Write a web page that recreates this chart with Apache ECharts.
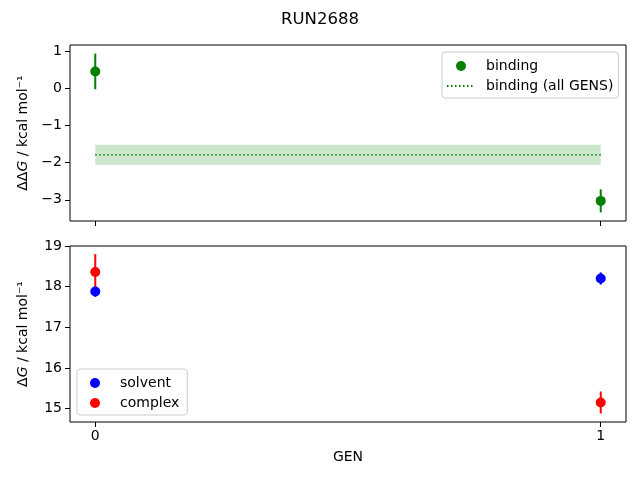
<!DOCTYPE html>
<html>
<head>
<meta charset="utf-8">
<script src="https://cdn.jsdelivr.net/npm/echarts@6/dist/echarts.min.js"></script>
<style>
  html, body { margin: 0; padding: 0; background: #fff; }
  #main { width: 640px; height: 480px; }
</style>
</head>
<body>
<div id="main"></div>
<script>
// data
var gens = [0, 1];
var bindingVals = [0.45, -3.03];
var bindingErrs = [0.48, 0.31];
var bindingAll = -1.79;
var bindingAllErr = 0.27;
var solventVals = [17.88, 18.20];
var solventErrs = [0.13, 0.15];
var complexVals = [18.36, 15.15];
var complexErrs = [0.44, 0.27];
var topTicks = [-3, -2, -1, 0, 1];
var bottomTicks = [15, 16, 17, 18, 19];

var FONT = 'DejaVu Sans';

function points(vals) {
    return gens.map(function (g, i) { return [g, vals[i]]; });
}
function bars(vals, errs) {
    return gens.map(function (g, i) { return [g, vals[i] - errs[i], vals[i] + errs[i]]; });
}
// error bar drawn via the axes scales
function errRender(color) {
    return function (params, api) {
        var p1 = api.coord([api.value(0), api.value(1)]);
        var p2 = api.coord([api.value(0), api.value(2)]);
        return {
            type: 'line',
            shape: { x1: p1[0], y1: p1[1], x2: p2[0], y2: p2[1] },
            style: { stroke: color, lineWidth: 2 }
        };
    };
}

var myChart = echarts.init(document.getElementById('main'), null, { renderer: 'canvas' });

var xCommon = {
    type: 'value', min: -0.05, max: 1.05,
    splitLine: { show: false },
    axisLine: { show: false, onZero: false },
    axisTick: { show: true, inside: false, length: 5, lineStyle: { color: '#000' }, customValues: gens },
    axisLabel: { color: '#000', fontSize: 14, fontFamily: FONT, margin: 7, customValues: gens }
};

var richName = { n: { fontSize: 14, fontFamily: FONT, color: '#000' }, i: { fontSize: 14, fontFamily: FONT, fontStyle: 'italic', color: '#000' } };

var legendCommon = {
    orient: 'vertical', align: 'left', padding: [7, 5, 5, 4], itemWidth: 28, itemHeight: 10, itemGap: 6,
    borderColor: '#cccccc', borderWidth: 1, borderRadius: 3, backgroundColor: 'rgba(255,255,255,0.8)',
    textStyle: { fontSize: 14, color: '#000', fontFamily: FONT, padding: [0, 0, 0, 6] }
};

var option = {
    animation: false,
    textStyle: { fontFamily: FONT },
    title: {
        text: 'RUN2688', left: 'center', top: 6,
        textStyle: { fontSize: 16.5, fontWeight: 'normal', color: '#000', fontFamily: FONT }
    },
    grid: [
        { left: 70, top: 45, width: 556, height: 176, show: true, borderColor: '#000', borderWidth: 1, backgroundColor: 'transparent' },
        { left: 70, top: 246, width: 556, height: 176, show: true, borderColor: '#000', borderWidth: 1, backgroundColor: 'transparent' }
    ],
    xAxis: [
        Object.assign({}, xCommon, { gridIndex: 0, axisLabel: Object.assign({}, xCommon.axisLabel, { show: false }) }),
        Object.assign({}, xCommon, {
            gridIndex: 1, name: 'GEN', nameLocation: 'middle', nameGap: 28,
            nameTextStyle: { color: '#000', fontSize: 14, fontFamily: FONT }
        })
    ],
    yAxis: [
        {
            gridIndex: 0, type: 'value', min: -3.57, max: 1.16,
            splitLine: { show: false }, axisLine: { show: false, onZero: false },
            axisTick: { show: true, length: 5, lineStyle: { color: '#000' }, customValues: topTicks },
            axisLabel: {
                color: '#000', fontSize: 14, fontFamily: FONT, margin: 8, customValues: topTicks,
                formatter: function (v) { return String(v).replace('-', '\u2212'); }
            },
            name: '{n|\u0394\u0394}{i|G}{n| / kcal mol\u207B\u00B9}', nameLocation: 'middle', nameGap: 40, nameRotate: 90,
            nameTextStyle: { color: '#000', fontSize: 14, fontFamily: FONT, rich: richName }
        },
        {
            gridIndex: 1, type: 'value', min: 14.67, max: 19.0,
            splitLine: { show: false }, axisLine: { show: false, onZero: false },
            axisTick: { show: true, length: 5, lineStyle: { color: '#000' }, customValues: bottomTicks },
            axisLabel: { color: '#000', fontSize: 14, fontFamily: FONT, margin: 8, customValues: bottomTicks },
            name: '{n|\u0394}{i|G}{n| / kcal mol\u207B\u00B9}', nameLocation: 'middle', nameGap: 40, nameRotate: 90,
            nameTextStyle: { color: '#000', fontSize: 14, fontFamily: FONT, rich: richName }
        }
    ],
    legend: [
        Object.assign({}, legendCommon, {
            data: ['binding', { name: 'binding (all GENS)', itemStyle: { color: 'rgba(0,0,0,0)', borderWidth: 0 } }],
            left: 442, top: 52
        }),
        Object.assign({}, legendCommon, {
            data: ['solvent', 'complex'], left: 77, top: 369, padding: [7, 8, 5, 13]
        })
    ],
    series: [
        {
            name: 'band', type: 'custom', xAxisIndex: 0, yAxisIndex: 0, silent: true,
            data: [[gens[0], gens[1], bindingAll - bindingAllErr, bindingAll + bindingAllErr]],
            renderItem: function (params, api) {
                var a = api.coord([api.value(0), api.value(3)]);
                var b = api.coord([api.value(1), api.value(2)]);
                return { type: 'rect', shape: { x: a[0], y: a[1], width: b[0] - a[0], height: b[1] - a[1] },
                         style: { fill: 'rgba(0,128,0,0.2)' } };
            }
        },
        {
            name: 'binding (all GENS)', type: 'line', xAxisIndex: 0, yAxisIndex: 0, symbol: 'none',
            data: [[gens[0], bindingAll], [gens[1], bindingAll]],
            itemStyle: { color: 'green' },
            lineStyle: { color: 'green', width: 1.5, type: [1.5, 2.5] }
        },
        {
            name: 'binding err', type: 'custom', xAxisIndex: 0, yAxisIndex: 0,
            data: bars(bindingVals, bindingErrs), renderItem: errRender('green')
        },
        {
            name: 'binding', type: 'scatter', xAxisIndex: 0, yAxisIndex: 0, symbolSize: 10,
            itemStyle: { color: 'green', opacity: 1 }, data: points(bindingVals)
        },
        {
            name: 'solvent err', type: 'custom', xAxisIndex: 1, yAxisIndex: 1,
            data: bars(solventVals, solventErrs), renderItem: errRender('blue')
        },
        {
            name: 'solvent', type: 'scatter', xAxisIndex: 1, yAxisIndex: 1, symbolSize: 10,
            itemStyle: { color: 'blue', opacity: 1 }, data: points(solventVals)
        },
        {
            name: 'complex err', type: 'custom', xAxisIndex: 1, yAxisIndex: 1,
            data: bars(complexVals, complexErrs), renderItem: errRender('red')
        },
        {
            name: 'complex', type: 'scatter', xAxisIndex: 1, yAxisIndex: 1, symbolSize: 10,
            itemStyle: { color: 'red', opacity: 1 }, data: points(complexVals)
        }
    ]
};
myChart.setOption(option);
</script>
</body>
</html>
